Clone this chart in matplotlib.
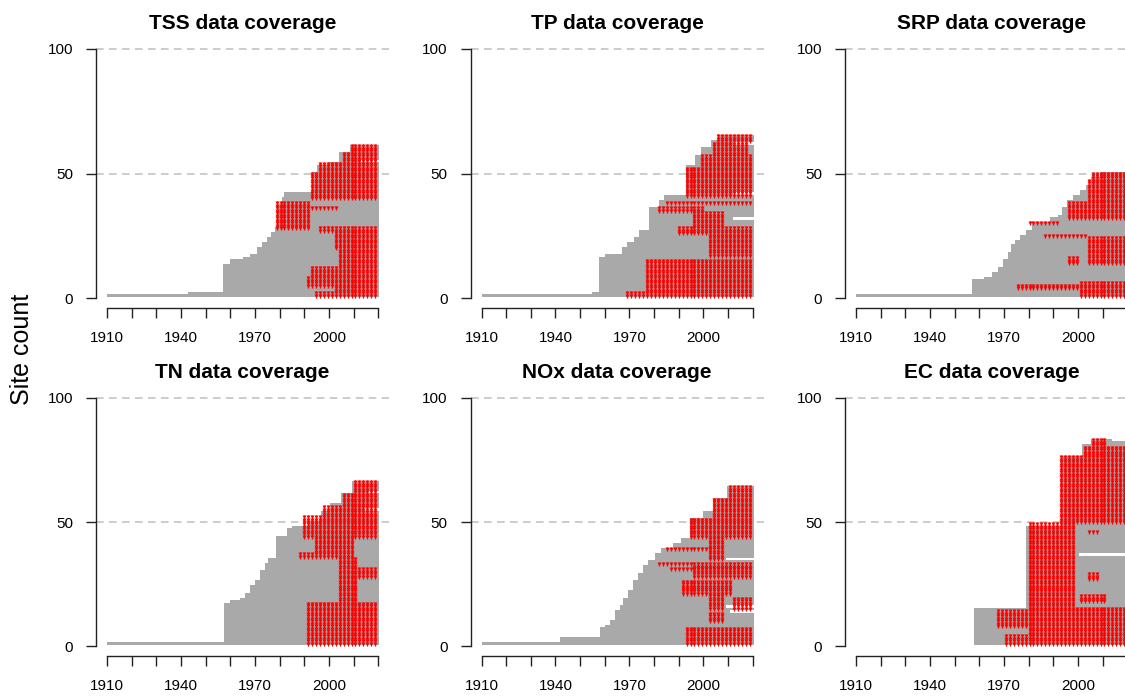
import numpy as np
import matplotlib
matplotlib.use("Agg")
import matplotlib.pyplot as plt

plt.rcParams['font.family'] = ['Liberation Sans', 'DejaVu Sans']

# ---------------------------------------------------------------------------
# Record span per site: sites are stacked by first year of record.
# *_step_site : highest site index of each step, *_step_year : first year of record
# *_gap_site / *_gap_end : sites whose record stops early
# *_red_* : blocks of sites/years holding sampled values (lo site, hi site, from, to)
# ---------------------------------------------------------------------------
tss_step_site = [1, 2, 13, 15, 16, 17, 20, 22, 24, 26, 28, 37, 40, 42, 50, 53, 54, 58, 61]
tss_step_year = [1910, 1943, 1957, 1960, 1965, 1968, 1971, 1973, 1975, 1976.5, 1978, 1979,
                 1981, 1982, 1993, 1995, 2000, 2004, 2008.5]
tss_gap_site = [55]
tss_gap_end = [2013]
tss_red_lo = [59, 55, 51, 40, 36, 28, 27, 20, 13, 9, 5, 1, 1]
tss_red_hi = [61, 58, 54, 50, 36, 38, 28, 26, 19, 12, 8, 4, 2]
tss_red_from = [2009, 2005, 1996, 1993, 1992, 1978, 1996, 2002, 2004, 1993, 1991, 2002, 1994]
tss_red_to = [2019, 2019, 2020, 2020, 2003, 1992, 2020, 2020, 2020, 2020, 2020, 2020, 2002]

tp_step_site = [1, 2, 16, 17, 20, 22, 24, 27, 36, 39, 41, 53, 57, 60, 63, 65]
tp_step_year = [1910, 1955, 1957.5, 1960, 1967, 1969, 1972, 1974, 1978, 1982, 1984, 1993,
                1996.5, 1999, 2003, 2006]
tp_gap_site = [62, 42, 32]
tp_gap_end = [2012, 2012, 2012]
tp_red_lo = [63, 58, 53, 41, 38, 35, 29, 26, 17, 3, 1]
tp_red_hi = [65, 62, 57, 52, 38, 36, 34, 28, 25, 15, 2]
tp_red_from = [2006, 2003, 1999, 1993, 1984, 1981, 1995, 1989, 2002, 1976, 1969]
tp_red_to = [2019, 2018, 2020, 2020, 2020, 2000, 2009, 2020, 2019, 2020, 2020]

srp_step_site = [1, 7, 8, 10, 12, 15, 18, 21, 23, 25, 27, 30, 32, 33, 36, 39, 41, 43, 45, 48, 50]
srp_step_year = [1910, 1957, 1962, 1965, 1967.5, 1969.5, 1971.5, 1973, 1974.5, 1976.5, 1979,
                 1981.5, 1988.5, 1992, 1993.5, 1995.5, 1998, 2001, 2003.5, 2005.5, 2009]
srp_gap_site = []
srp_gap_end = []
srp_red_lo = [48, 39, 32, 30, 25, 14, 14, 1, 4]
srp_red_hi = [50, 47, 38, 30, 25, 24, 16, 6, 5]
srp_red_from = [2006, 2003, 1995, 1980, 1986, 2003, 1995, 2000, 1975]
srp_red_to = [2020, 2020, 2020, 1993, 2003, 2020, 2000, 2020, 2000]

tn_step_site = [1, 17, 18, 19, 21, 24, 26, 30, 33, 35, 44, 47, 48, 50, 54, 57, 61, 66]
tn_step_year = [1910, 1957.5, 1960, 1964, 1966, 1968, 1970, 1972, 1974, 1975.5, 1978.5, 1983,
                1985, 1991.5, 1997, 2000.5, 2005, 2009.5]
tn_gap_site = [62, 55]
tn_gap_end = [2016, 2014]
tn_red_lo = [62, 57, 53, 44, 36, 36, 18, 28, 1]
tn_red_hi = [66, 61, 56, 52, 43, 37, 35, 31, 17]
tn_red_from = [2009.5, 2005, 1998, 1990, 1994, 1987, 2003, 2011, 1991]
tn_red_to = [2019, 2019, 2020, 2020, 2010, 1994, 2011, 2020, 2020]

nox_step_site = [1, 3, 7, 8, 10, 14, 16, 19, 22, 26, 29, 32, 34, 37, 39, 41, 43, 51, 54, 59, 64]
nox_step_year = [1910, 1942, 1958, 1960, 1962, 1964, 1966, 1967.5, 1969.5, 1971.5, 1973.5,
                 1975.5, 1977.5, 1980.5, 1983, 1987.5, 1991, 1994.5, 2000, 2004, 2009.5]
nox_gap_site = [35, 16, 14]
nox_gap_end = [2009, 2009, 2011]
nox_red_lo = [60, 52, 44, 35, 39, 33, 31, 28, 21, 15, 15, 10, 1]
nox_red_hi = [64, 59, 51, 43, 39, 33, 31, 32, 26, 20, 19, 13, 7]
nox_red_from = [2009.5, 2003.5, 1994, 2002, 1984, 1982, 1986, 1995, 1991, 2002, 2011, 2002, 1993]
nox_red_to = [2019, 2020, 2020, 2009, 2003, 2020, 2020, 2020, 2012, 2009, 2020, 2009, 2020]

ec_step_site = [15, 48, 76, 81, 83]
ec_step_year = [1958, 1979, 1993, 2001.5, 2005.5]
ec_gap_site = [37, 83]
ec_gap_end = [2000.5, 2013.7]
ec_red_lo = [81, 77, 50, 16, 18, 46, 27, 1, 5, 8]
ec_red_hi = [83, 80, 76, 49, 20, 46, 29, 4, 15, 14]
ec_red_from = [2006, 2002, 1993, 1979, 2001, 2003, 2004, 1969.5, 1979, 1967]
ec_red_to = [2012, 2020, 2020, 1999, 2011, 2008, 2008, 2020, 2020, 1979]

panels = [
    ("TSS", tss_step_site, tss_step_year, tss_gap_site, tss_gap_end,
     tss_red_lo, tss_red_hi, tss_red_from, tss_red_to),
    ("TP", tp_step_site, tp_step_year, tp_gap_site, tp_gap_end,
     tp_red_lo, tp_red_hi, tp_red_from, tp_red_to),
    ("SRP", srp_step_site, srp_step_year, srp_gap_site, srp_gap_end,
     srp_red_lo, srp_red_hi, srp_red_from, srp_red_to),
    ("TN", tn_step_site, tn_step_year, tn_gap_site, tn_gap_end,
     tn_red_lo, tn_red_hi, tn_red_from, tn_red_to),
    ("NOx", nox_step_site, nox_step_year, nox_gap_site, nox_gap_end,
     nox_red_lo, nox_red_hi, nox_red_from, nox_red_to),
    ("EC", ec_step_site, ec_step_year, ec_gap_site, ec_gap_end,
     ec_red_lo, ec_red_hi, ec_red_from, ec_red_to),
]

record_end = 2020.5
year_ticks = list(range(1910, 2021, 10))
year_labels = [str(y) if y in (1910, 1940, 1970, 2000) else "" for y in year_ticks]
count_ticks = [0, 50, 100]
sample_step = 1.6

W, H = 1125, 698
fig = plt.figure(figsize=(W / 100, H / 100), dpi=100)

col_left = [96.2, 470.7, 845.2]
row_top = [39.0, 388.0]
ax_w = 292.8
ax_h = [269.0, 268.0]

for k, (name, step_site, step_year, gap_site, gap_end,
        r_lo, r_hi, r_from, r_to) in enumerate(panels):
    r, c = divmod(k, 3)
    left = col_left[c] / W
    bottom = 1 - (row_top[r] + ax_h[r]) / H
    ax = fig.add_axes([left, bottom, ax_w / W, ax_h[r] / H])

    # gridlines at 50 and 100
    for yv in (50, 100):
        ax.axhline(yv, color="#BEBEBE", lw=1.1, ls=(0, (5, 3.5)), zorder=1)

    # record span of every site
    sites, starts, ends = [], [], []
    prev = 0
    for top, yr in zip(step_site, step_year):
        for s in range(prev + 1, top + 1):
            sites.append(s)
            starts.append(yr)
            ends.append(gap_end[gap_site.index(s)] if s in gap_site else record_end)
        prev = top
    sites = np.array(sites)
    starts = np.array(starts, dtype=float)
    ends = np.array(ends, dtype=float)
    ax.barh(sites, ends - starts, left=starts, height=1.0, color="#A9A9A9",
            linewidth=0, zorder=2)

    # sampled years
    px, py = [], []
    for lo, hi, y0, y1 in zip(r_lo, r_hi, r_from, r_to):
        k0 = np.ceil((y0 - 1910) / sample_step)
        k1 = np.floor((y1 - 1910) / sample_step)
        yrs = 1910 + sample_step * np.arange(k0, k1 + 1)
        for s in range(lo, hi + 1):
            px.extend(yrs)
            py.extend([s] * len(yrs))
    ax.scatter(px, py, marker="v", s=8, color="#FF0000", linewidths=0, zorder=3)
    ax.scatter(px, py, marker="|", s=7, color="#FF0000", linewidths=0.9, zorder=3)

    ax.set_xlim(1905.6, 2024.4)
    ax.set_ylim(-4, 104)
    for sp in ("top", "right"):
        ax.spines[sp].set_visible(False)
    ax.spines["left"].set_bounds(0, 100)
    ax.spines["bottom"].set_bounds(1910, 2020)
    for sp in ("left", "bottom"):
        ax.spines[sp].set_linewidth(1.0)
        ax.spines[sp].set_color("#222222")
    ax.set_xticks(year_ticks)
    ax.set_xticklabels(year_labels)
    ax.set_yticks(count_ticks)
    ax.tick_params(axis="x", direction="out", length=7, width=1.0, pad=9.5,
                   labelsize=11, color="#222222")
    ax.tick_params(axis="y", direction="out", length=7, width=1.0, pad=9.5,
                   labelsize=11, color="#222222")
    ax.set_title(f"{name} data coverage", fontsize=15, fontweight="bold", pad=7)

fig.text(22 / W, 0.5, "Site count", rotation=90, ha="center", va="center", fontsize=18)

fig.savefig("out.png", dpi=100)
